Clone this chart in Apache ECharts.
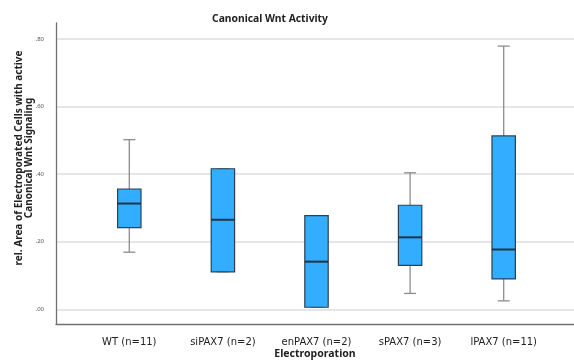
<!DOCTYPE html>
<html>
<head>
<meta charset="utf-8">
<script src="https://cdn.jsdelivr.net/npm/echarts@6/dist/echarts.min.js"></script>
<style>
  html, body { margin: 0; padding: 0; background: #fff; }
  #chart { width: 574px; height: 360px; }
</style>
</head>
<body>
<div id="chart"></div>
<script>
// groups on the x axis
const categories = ['WT (n=11)', 'siPAX7 (n=2)', 'enPAX7 (n=2)', 'sPAX7 (n=3)', 'lPAX7 (n=11)'];
// box statistics
const lowWhisker  = [0.169, 0.111, 0.006, 0.047, 0.025];
const q1          = [0.242, 0.111, 0.006, 0.130, 0.090];
const median      = [0.313, 0.265, 0.141, 0.213, 0.177];
const q3          = [0.356, 0.416, 0.277, 0.308, 0.513];
const highWhisker = [0.502, 0.416, 0.277, 0.404, 0.779];
// y tick values
const yTicks = [0, 0.2, 0.4, 0.6, 0.8];

const fontFam = '"Noto Sans", "DejaVu Sans", sans-serif';

let boxData = categories.map(function (c, i) {
    return [i, lowWhisker[i], q1[i], median[i], q3[i], highWhisker[i]];
});

function renderBox(params, api) {
    let i = api.value(0);
    let pLo = api.coord([i, api.value(1)]);
    let pQ1 = api.coord([i, api.value(2)]);
    let pMed = api.coord([i, api.value(3)]);
    let pQ3 = api.coord([i, api.value(4)]);
    let pHi = api.coord([i, api.value(5)]);
    let bw = api.size([1, 0])[0] * 0.25;
    let cw = 12;
    let x = pMed[0];
    let whisk = { stroke: '#8c8c8c', lineWidth: 1.3 };
    return {
        type: 'group',
        children: [
            { type: 'line', shape: { x1: x, y1: pHi[1], x2: x, y2: pQ3[1] }, style: whisk },
            { type: 'line', shape: { x1: x, y1: pLo[1], x2: x, y2: pQ1[1] }, style: whisk },
            { type: 'line', shape: { x1: x - cw / 2, y1: pHi[1], x2: x + cw / 2, y2: pHi[1] }, style: whisk },
            { type: 'line', shape: { x1: x - cw / 2, y1: pLo[1], x2: x + cw / 2, y2: pLo[1] }, style: whisk },
            {
                type: 'rect',
                shape: { x: x - bw / 2, y: pQ3[1], width: bw, height: pQ1[1] - pQ3[1] },
                style: { fill: '#33adff', stroke: '#2b4255', lineWidth: 1.2 }
            },
            {
                type: 'line',
                shape: { x1: x - bw / 2, y1: pMed[1], x2: x + bw / 2, y2: pMed[1] },
                style: { stroke: '#1b3448', lineWidth: 2 }
            }
        ]
    };
}

let myChart = echarts.init(document.getElementById('chart'));
let option = {
    animation: false,
    title: {
        text: 'Canonical Wnt Activity',
        left: 265,
        top: 9,
        textAlign: 'center',
        textStyle: { fontFamily: fontFam, fontSize: 10.3, fontWeight: 'bold', color: '#222' }
    },
    grid: [
        // frame (axis lines)
        { left: 56, right: 0, top: 23, bottom: 36, outerBoundsMode: 'none' },
        // gridlines + y tick labels
        { left: 56, right: 0, top: 39, bottom: 50.7, outerBoundsMode: 'none' },
        // boxes
        { left: 82.5, right: 23.5, top: 39, bottom: 50.7, outerBoundsMode: 'none' }
    ],
    xAxis: [
        {
            gridIndex: 0, type: 'value', min: 0, max: 1,
            axisLine: { show: true, lineStyle: { color: '#707070', width: 1.3 } },
            axisTick: { show: false }, axisLabel: { show: false }, splitLine: { show: false },
            name: 'Electroporation', nameLocation: 'middle', nameGap: 25,
            nameTextStyle: { fontFamily: fontFam, fontSize: 10.5, fontWeight: 'bold', color: '#222' }
        },
        { gridIndex: 1, type: 'value', min: 0, max: 1, show: false },
        {
            gridIndex: 2, type: 'category', data: categories,
            axisLine: { show: false }, axisTick: { show: false },
            axisLabel: { margin: 28, fontFamily: '"DejaVu Sans", sans-serif', fontSize: 10, color: '#222' }
        }
    ],
    yAxis: [
        {
            gridIndex: 0, type: 'value', min: 0, max: 1,
            axisLine: { show: true, lineStyle: { color: '#707070', width: 1.3 } },
            axisTick: { show: false }, axisLabel: { show: false }, splitLine: { show: false }
        },
        {
            gridIndex: 1, type: 'value', min: yTicks[0], max: yTicks[yTicks.length - 1], interval: 0.2,
            axisLine: { show: false }, axisTick: { show: false },
            axisLabel: {
                margin: 12, fontFamily: fontFam, fontSize: 6, color: '#555',
                formatter: function (v) { return v.toFixed(2).replace(/^0/, ''); }
            },
            splitLine: { lineStyle: { color: '#dedede', width: 1.6 } }
        },
        { gridIndex: 2, type: 'value', min: yTicks[0], max: yTicks[yTicks.length - 1], show: false }
    ],
    graphic: [
        {
            type: 'text',
            x: 24, y: 158,
            rotation: Math.PI / 2,
            style: {
                text: 'rel. Area of Electroporated Cells with active\nCanonical Wnt Signaling',
                fontFamily: fontFam, fontSize: 10, fontWeight: 'bold', fill: '#222',
                align: 'center', verticalAlign: 'middle', lineHeight: 10
            }
        }
    ],
    series: [
        {
            type: 'custom',
            xAxisIndex: 2,
            yAxisIndex: 2,
            renderItem: renderBox,
            encode: { x: 0, y: [1, 2, 3, 4, 5] },
            data: boxData,
            z: 5
        }
    ]
};
myChart.setOption(option);
window.addEventListener('resize', function () { myChart.resize(); });
</script>
</body>
</html>
